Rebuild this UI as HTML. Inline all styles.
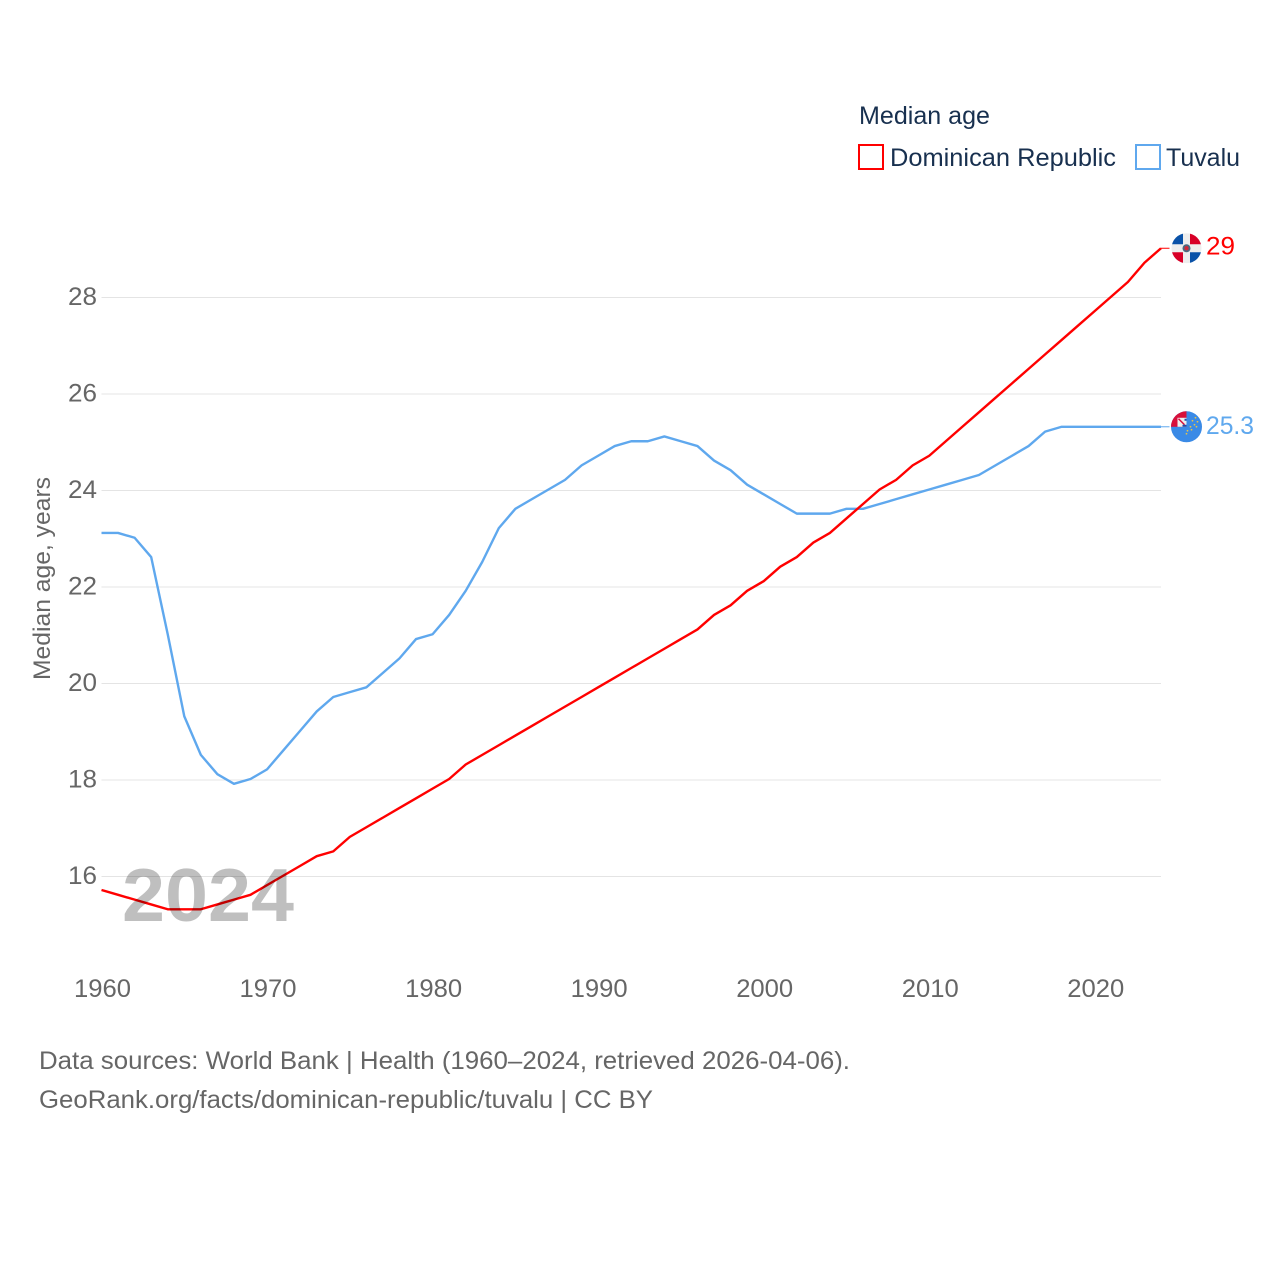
<!DOCTYPE html>
<html lang="en">
<head>
<meta charset="utf-8">
<title>Median age: Dominican Republic and Tuvalu</title>
<style>
html,body{margin:0;padding:0;background:#fff;}
svg{display:block;font-family:"Liberation Sans",sans-serif;}
</style>
</head>
<body>
<svg id="chart" width="1280" height="1280" viewBox="0 0 1280 1280" xmlns="http://www.w3.org/2000/svg">
  <defs>
    <clipPath id="flag-clip-dr"><circle cx="0" cy="0" r="15"></circle></clipPath>
    <clipPath id="flag-clip-tv"><circle cx="0" cy="0" r="15.5"></circle></clipPath>
  </defs>
  <rect width="1280" height="1280" fill="#fff"></rect>

  <g id="grid"></g>
  <g id="y-ticks"></g>
  <g id="x-ticks"></g>
  <text transform="translate(50 680) rotate(-90)" font-size="24" fill="#666" textLength="203" lengthAdjust="spacingAndGlyphs">Median age, years</text>

  <g id="series"></g>
  <text x="122" y="921" font-size="75" font-weight="700" fill="#000" fill-opacity="0.25" textLength="172" lengthAdjust="spacingAndGlyphs">2024</text>
  <g id="endpoints"></g>

  <text x="859" y="124" font-size="25" fill="#18304f" textLength="131" lengthAdjust="spacingAndGlyphs">Median age</text>
  <g>
    <rect x="859" y="145" width="24" height="24" fill="#fff" stroke="#ff0000" stroke-width="2"></rect>
    <text x="890" y="166" font-size="25" fill="#18304f" textLength="226" lengthAdjust="spacingAndGlyphs">Dominican Republic</text>
  </g>
  <g>
    <rect x="1136" y="145" width="24" height="24" fill="#fff" stroke="#5fa8ee" stroke-width="2"></rect>
    <text x="1166" y="166" font-size="25" fill="#18304f" textLength="74" lengthAdjust="spacingAndGlyphs">Tuvalu</text>
  </g>

  <text x="39" y="1069" font-size="25" fill="#666" textLength="811" lengthAdjust="spacingAndGlyphs">Data sources: World Bank | Health (1960–2024, retrieved 2026-04-06).</text>
  <text x="39" y="1108" font-size="25" fill="#666" textLength="614" lengthAdjust="spacingAndGlyphs">GeoRank.org/facts/dominican-republic/tuvalu | CC BY</text>
</svg>
<script>
const years = [1960,1961,1962,1963,1964,1965,1966,1967,1968,1969,1970,1971,1972,1973,1974,1975,1976,1977,1978,1979,1980,1981,1982,1983,1984,1985,1986,1987,1988,1989,1990,1991,1992,1993,1994,1995,1996,1997,1998,1999,2000,2001,2002,2003,2004,2005,2006,2007,2008,2009,2010,2011,2012,2013,2014,2015,2016,2017,2018,2019,2020,2021,2022,2023,2024];
const dominicanRepublic = [15.7,15.6,15.5,15.4,15.3,15.3,15.3,15.4,15.5,15.6,15.8,16.0,16.2,16.4,16.5,16.8,17.0,17.2,17.4,17.6,17.8,18.0,18.3,18.5,18.7,18.9,19.1,19.3,19.5,19.7,19.9,20.1,20.3,20.5,20.7,20.9,21.1,21.4,21.6,21.9,22.1,22.4,22.6,22.9,23.1,23.4,23.7,24.0,24.2,24.5,24.7,25.0,25.3,25.6,25.9,26.2,26.5,26.8,27.1,27.4,27.7,28.0,28.3,28.7,29.0];
const tuvalu = [23.1,23.1,23.0,22.6,21.0,19.3,18.5,18.1,17.9,18.0,18.2,18.6,19.0,19.4,19.7,19.8,19.9,20.2,20.5,20.9,21.0,21.4,21.9,22.5,23.2,23.6,23.8,24.0,24.2,24.5,24.7,24.9,25.0,25.0,25.1,25.0,24.9,24.6,24.4,24.1,23.9,23.7,23.5,23.5,23.5,23.6,23.6,23.7,23.8,23.9,24.0,24.1,24.2,24.3,24.5,24.7,24.9,25.2,25.3,25.3,25.3,25.3,25.3,25.3,25.3];
const yTickValues = [16,18,20,22,24,26,28];
const xTickValues = [1960,1970,1980,1990,2000,2010,2020];
const endLabelDominican = "29";
const endLabelTuvalu = "25.3";

const NS = "http://www.w3.org/2000/svg";
const plotLeft = 101.5, plotRight = 1161;
const xMinYear = 1960, xMaxYear = 2024;
const yRefLow = 16, yRefHigh = 28, yRefLowPx = 876.5, yRefHighPx = 297.5;
const seriesShift = -1;

function xScale(year) {
  return plotLeft + (year - xMinYear) * (plotRight - plotLeft) / (xMaxYear - xMinYear);
}
function yScale(value) {
  return yRefLowPx + (value - yRefLow) * (yRefHighPx - yRefLowPx) / (yRefHigh - yRefLow);
}
function seriesY(value) {
  return yScale(value) + seriesShift;
}
function make(tag, attrs) {
  const el = document.createElementNS(NS, tag);
  for (const k in attrs) el.setAttribute(k, attrs[k]);
  return el;
}

const gridGroup = document.getElementById("grid");
const yTickGroup = document.getElementById("y-ticks");
yTickValues.forEach(function (v) {
  const line = make("line", {x1: plotLeft, x2: plotRight, y1: yScale(v), y2: yScale(v), stroke: "#e4e4e4", "stroke-width": 1});
  
  
  gridGroup.appendChild(line);
  const label = make("text", {x: 97, y: yScale(v) + 7.5, "text-anchor": "end", "font-size": 25, fill: "#666", textLength: 29, lengthAdjust: "spacingAndGlyphs"});
  
  
  label.textContent = String(v);
  yTickGroup.appendChild(label);
});

const xTickGroup = document.getElementById("x-ticks");
xTickValues.forEach(function (v) {
  const label = make("text", {x: xScale(v) + 1, y: 997, "text-anchor": "middle", "font-size": 25, fill: "#666", textLength: 57, lengthAdjust: "spacingAndGlyphs"});
  
  
  label.textContent = String(v);
  xTickGroup.appendChild(label);
});

function linePoints(values) {
  return values.map(function (v, i) {
    return xScale(years[i]).toFixed(2) + "," + seriesY(v).toFixed(2);
  }).join(" ");
}
const seriesGroup = document.getElementById("series");
const tuvaluLine = make("polyline", {points: linePoints(tuvalu), fill: "none", stroke: "#5fa8ee", "stroke-width": 2.4, "stroke-linejoin": "round"});


seriesGroup.appendChild(tuvaluLine);
const drLine = make("polyline", {points: linePoints(dominicanRepublic), fill: "none", stroke: "#ff0000", "stroke-width": 2.4, "stroke-linejoin": "round"});


seriesGroup.appendChild(drLine);

const endGroup = document.getElementById("endpoints");
const lastIndex = years.length - 1;
const flagX = 1186.5;
const drEndY = seriesY(dominicanRepublic[lastIndex]);
const tvEndY = seriesY(tuvalu[lastIndex]);

const drConnector = make("line", {x1: plotRight, x2: flagX - 17, y1: drEndY, y2: drEndY, stroke: "#ff0000", "stroke-width": 1});


endGroup.appendChild(drConnector);
const tvConnector = make("line", {x1: plotRight, x2: flagX - 17, y1: tvEndY, y2: tvEndY, stroke: "#5fa8ee", "stroke-width": 1});


endGroup.appendChild(tvConnector);

/* Dominican Republic flag */
const drFlag = make("g", {transform: "translate(" + flagX + " " + drEndY + ")", "clip-path": "url(#flag-clip-dr)"});


drFlag.innerHTML =
  '<rect x="-15" y="-15" width="30" height="30" fill="#eeeeee"/>' +
  '<rect x="-15" y="-15" width="11.5" height="11" fill="#0a52a8"/>' +
  '<rect x="3.5" y="-15" width="11.5" height="11" fill="#d80027"/>' +
  '<rect x="-15" y="4" width="11.5" height="11" fill="#d80027"/>' +
  '<rect x="3.5" y="4" width="11.5" height="11" fill="#0a52a8"/>' +
  '<circle cx="0" cy="0" r="4" fill="#4b6a80"/>' +
  '<circle cx="0" cy="0" r="2.2" fill="#d02a3a"/>';
endGroup.appendChild(drFlag);

/* Tuvalu flag */
const tvFlag = make("g", {transform: "translate(" + flagX + " " + tvEndY + ")", "clip-path": "url(#flag-clip-tv)"});


tvFlag.innerHTML =
  '<rect x="-16" y="-16" width="32" height="32" fill="#3a8ae6"/>' +
  '<rect x="-16" y="-16" width="16" height="16" fill="#d80f3a"/>' +
  '<rect x="-9" y="-9" width="9" height="9" fill="#eeeeee"/>' +
  '<path d="M-8-8L-2-2" stroke="#d80f3a" stroke-width="1.5"/>' +
  '<path d="M-4-1L0-1M-2-7L0-7" stroke="#1f4ea8" stroke-width="2"/>' +
  '<g fill="#e6c34a"><circle cx="9" cy="-9" r="0.9"/><circle cx="11" cy="-5" r="0.9"/><circle cx="6" cy="-6" r="0.9"/><circle cx="8" cy="-2" r="0.9"/><circle cx="10" cy="0" r="0.9"/><circle cx="4" cy="0" r="0.9"/><circle cx="5" cy="3" r="0.9"/><circle cx="1" cy="4" r="0.9"/><circle cx="0" cy="7" r="0.9"/></g>';
endGroup.appendChild(tvFlag);

const drEndLabel = make("text", {x: 1206, y: drEndY + 6, "font-size": 25, fill: "#ff0000", textLength: 29, lengthAdjust: "spacingAndGlyphs"});


drEndLabel.textContent = endLabelDominican;
endGroup.appendChild(drEndLabel);

const tvEndLabel = make("text", {x: 1206, y: tvEndY + 7, "font-size": 25, fill: "#5fa8ee", textLength: 48, lengthAdjust: "spacingAndGlyphs"});


tvEndLabel.textContent = endLabelTuvalu;
endGroup.appendChild(tvEndLabel);
</script>
</body>
</html>
